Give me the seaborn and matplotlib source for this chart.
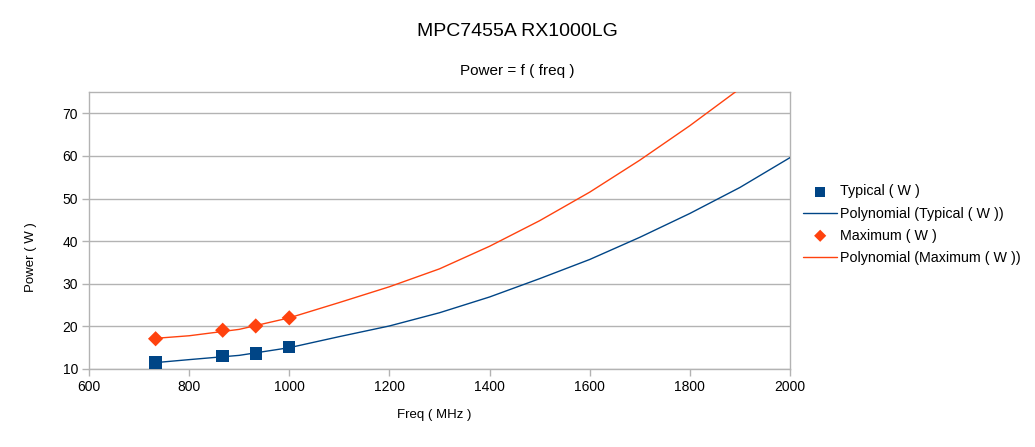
import matplotlib
matplotlib.use("Agg")
import matplotlib.pyplot as plt
import seaborn as sns

# ─── Data ─────────────────────────────────────────────────────────────────────
FREQ_POINTS = [733, 867, 933, 1000]
TYPICAL_W = [11.5, 13.0, 13.6, 15.1]
MAXIMUM_W = [17.1, 19.1, 20.1, 22.0]

# polynomial trend lines as drawn in the reference
TREND_FREQ = [733, 800, 900, 1000, 1100, 1200, 1300, 1400, 1500,
              1600, 1700, 1800, 1900, 2000]
TREND_TYPICAL = [11.5, 12.2, 13.2, 15.0, 17.6, 20.1, 23.2, 26.9, 31.2,
                 35.7, 40.9, 46.5, 52.6, 59.6]
TREND_MAXIMUM = [17.2, 17.8, 19.3, 22.0, 25.6, 29.3, 33.5, 38.8, 44.8,
                 51.5, 59.0, 67.1, 75.8, 85.0]

BLUE = "#004586"
ORANGE = "#ff420e"

sns.set_style("white")
plt.rcParams["font.family"] = ["Liberation Sans", "DejaVu Sans"]
plt.rcParams["text.color"] = "black"

W, H = 1035, 447
fig = plt.figure(figsize=(W / 100, H / 100), dpi=100)
ax = fig.add_axes([89 / W, 1 - 369 / H, (790 - 89) / W, (369 - 92) / H])

sns.lineplot(x=TREND_FREQ, y=TREND_TYPICAL, color=BLUE, linewidth=1.0,
             ax=ax, label="Polynomial (Typical ( W ))", zorder=3)
sns.lineplot(x=TREND_FREQ, y=TREND_MAXIMUM, color=ORANGE, linewidth=1.0,
             ax=ax, label="Polynomial (Maximum ( W ))", zorder=3)
sns.scatterplot(x=FREQ_POINTS, y=TYPICAL_W, color=BLUE, marker="s", s=80,
                edgecolor="none", ax=ax, label="Typical ( W )", zorder=4)
sns.scatterplot(x=FREQ_POINTS, y=MAXIMUM_W, color=ORANGE, marker="D", s=60,
                edgecolor="none", ax=ax, label="Maximum ( W )", zorder=4)

ax.set_xlim(600, 2000)
ax.set_ylim(10, 75)
ax.set_xticks(range(600, 2001, 200))
ax.set_yticks(range(10, 71, 10))
ax.grid(axis="y", color="#b3b3b3", linewidth=1.0)
ax.set_axisbelow(True)
for side in ["left", "right", "top", "bottom"]:
    ax.spines[side].set_color("#b3b3b3")
    ax.spines[side].set_linewidth(1.0)
ax.tick_params(axis="both", which="both", length=5, color="#b3b3b3",
               width=1.0, direction="out", labelsize=10, labelcolor="#000000",
               pad=3, bottom=True, left=True)
ax.set_xlabel("")
ax.set_ylabel("")

# legend order as in the reference
handles, labels = ax.get_legend_handles_labels()
order = ["Typical ( W )", "Polynomial (Typical ( W ))",
         "Maximum ( W )", "Polynomial (Maximum ( W ))"]
hmap = dict(zip(labels, handles))
ax.get_legend().remove()
fig.legend([hmap[k] for k in order], order, loc="upper left",
           bbox_to_anchor=(803 / W, 1 - 184.5 / H), frameon=False,
           fontsize=10.3, handlelength=2.4, handletextpad=0.2,
           labelspacing=0.56, borderaxespad=0, borderpad=0,
           markerscale=0.8)

fig.text(517 / W, 1 - 31 / H, "MPC7455A RX1000LG", ha="center",
         va="center", fontsize=14)
fig.text(517 / W, 1 - 71 / H, "Power = f ( freq )", ha="center",
         va="center", fontsize=11)
fig.text(434 / W, 1 - 415 / H, "Freq ( MHz )", ha="center", va="center",
         fontsize=9.5)
fig.text(31 / W, 1 - 257 / H, "Power ( W )", ha="center", va="center",
         fontsize=9.5, rotation=90)

fig.savefig("out.png", dpi=100)
